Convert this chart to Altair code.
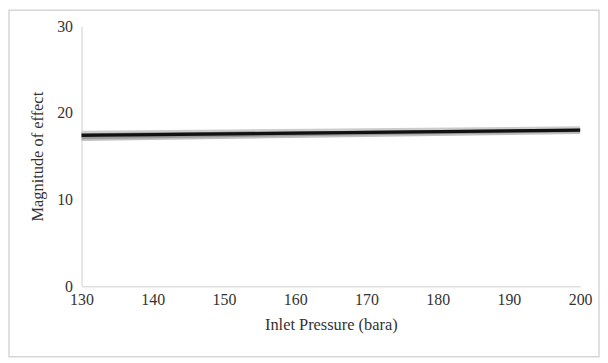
import altair as alt
import pandas as pd

# Data
pressure = [130, 200]
series_names = ["s1", "s2", "s3", "s4", "s5"]
series_start = [16.9, 17.1, 17.6, 17.8, 17.4]
series_end = [17.7, 17.9, 18.1, 18.3, 18.0]
series_colors = ["#c0c0c0", "#999999", "#7a7a7a", "#cccccc", "#111111"]
series_widths = [2.5, 2.5, 2.5, 2.5, 3.2]

rows = []
for name, s, e in zip(series_names, series_start, series_end):
    rows.append({"series": name, "pressure": pressure[0], "value": s})
    rows.append({"series": name, "pressure": pressure[1], "value": e})
df = pd.DataFrame(rows)

FONT = "Liberation Serif"

x = alt.X("pressure:Q", scale=alt.Scale(domain=[130, 200], nice=False),
          axis=alt.Axis(title="Inlet Pressure (bara)", values=list(range(130, 201, 10)),
                        grid=False, ticks=False, domainColor="#d0d0d0",
                        labelPadding=5, titlePadding=9, labelFlush=False))
y = alt.Y("value:Q", scale=alt.Scale(domain=[0, 30], nice=False),
          axis=alt.Axis(title="Magnitude of effect", values=[0, 10, 20, 30],
                        grid=False, ticks=False, domainColor="#d0d0d0",
                        labelPadding=9, titlePadding=11))

layers = []
for name, col, w in zip(series_names, series_colors, series_widths):
    layers.append(
        alt.Chart(df[df.series == name]).mark_line(color=col, strokeWidth=w)
        .encode(x=x, y=y)
    )

border = alt.Chart(pd.DataFrame({"a": [0]})).mark_rect(
    filled=False, stroke="#d6d6d6", strokeWidth=1.5
).encode(x=alt.value(-73), x2=alt.value(521), y=alt.value(-16), y2=alt.value(333))

chart = alt.layer(border, *layers).properties(
    width=502, height=262,
    autosize=alt.AutoSizeParams(type="none"),
    padding={"left": 74, "top": 17, "right": 20, "bottom": 72},
).configure_view(stroke=None).configure_axis(
    labelFont=FONT, titleFont=FONT, labelFontSize=16, titleFontSize=16.5,
    labelColor="#333333", titleColor="#333333", titleFontWeight="normal"
)

chart.save("out.html", embed_options={"renderer": "svg", "actions": False})
